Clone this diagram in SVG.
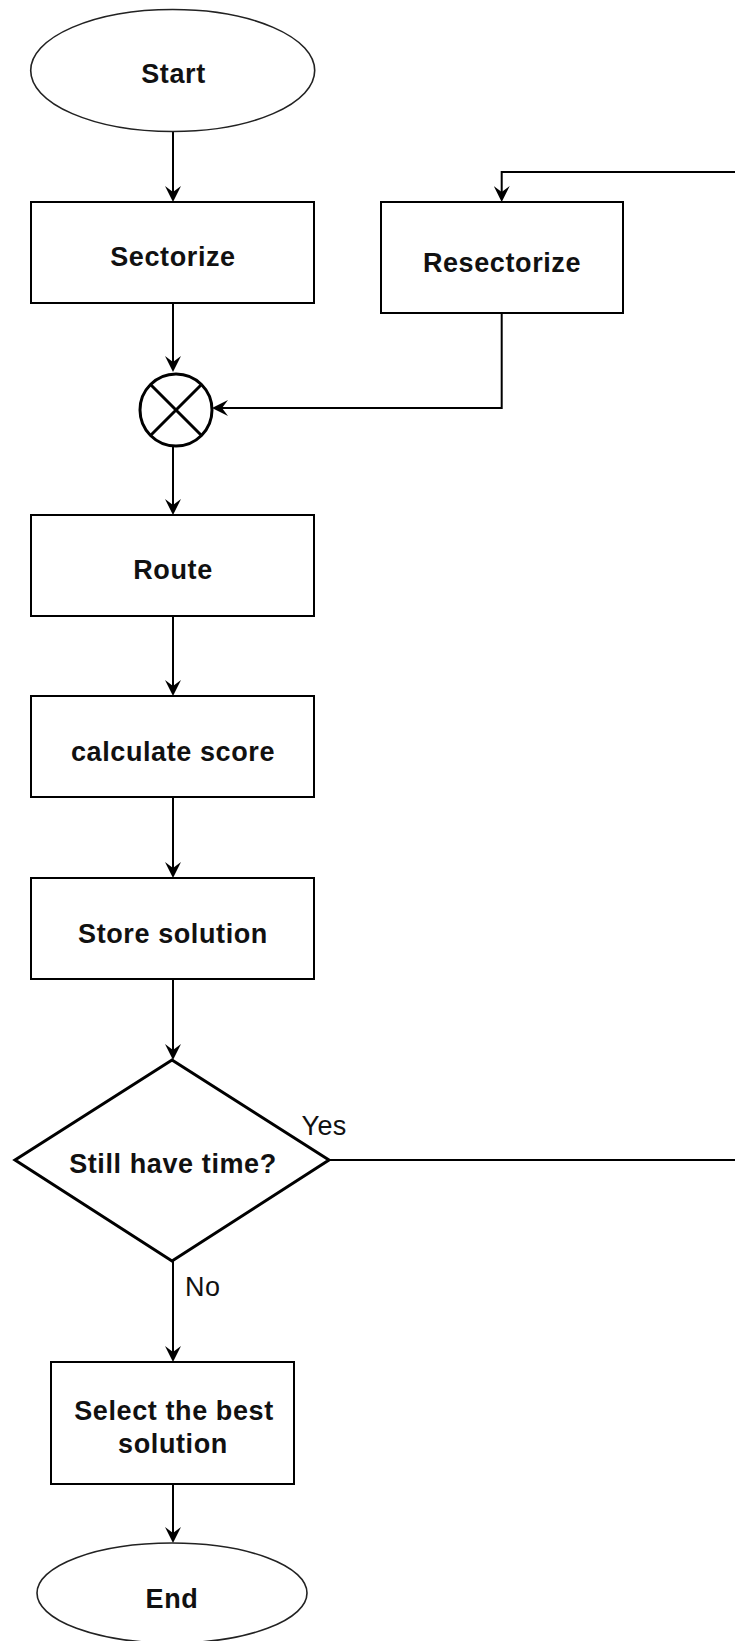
<svg xmlns="http://www.w3.org/2000/svg" width="735" height="1641" viewBox="0 0 735 1641">
<style>
  .box { fill: #ffffff; stroke: #000000; stroke-width: 2; }
  .term { fill: #ffffff; stroke: #222222; stroke-width: 1.6; }
  .heavy { fill: #ffffff; stroke: #000000; stroke-width: 3; }
  .conn { fill: none; stroke: #000000; stroke-width: 2; }
  .lbl { font-family: "Liberation Sans", Arial, sans-serif; font-size: 27px; font-weight: bold; fill: #111111; text-anchor: middle; letter-spacing: 0.6px; }
  .edge { font-family: "Liberation Sans", Arial, sans-serif; font-size: 27px; fill: #111111; letter-spacing: 0.4px; }
</style>
<defs>
  <marker id="arr" viewBox="0 0 16 16" refX="10" refY="8" markerWidth="16" markerHeight="16" markerUnits="userSpaceOnUse" orient="auto">
    <path d="M16,8 L0,0 L6,8 L0,16 Z" fill="#000000"/>
  </marker>
</defs>
<rect x="0" y="0" width="735" height="1641" fill="#ffffff"/>

<g id="connectors">
  <path class="conn" d="M173,132 V196" marker-end="url(#arr)"/>
  <path class="conn" d="M173,303 V366" marker-end="url(#arr)"/>
  <path class="conn" d="M501.7,313 V408 H218" marker-end="url(#arr)"/>
  <path class="conn" d="M173,446 V509" marker-end="url(#arr)"/>
  <path class="conn" d="M173,616 V690" marker-end="url(#arr)"/>
  <path class="conn" d="M173,797 V872" marker-end="url(#arr)"/>
  <path class="conn" d="M173,979 V1054" marker-end="url(#arr)"/>
  <path class="conn" d="M173,1261 V1356" marker-end="url(#arr)"/>
  <path class="conn" d="M173,1484 V1537" marker-end="url(#arr)"/>
  <path class="conn" d="M329,1160 H745 V172 H501.7 V196" marker-end="url(#arr)"/>
  <text class="edge" x="301.5" y="1135">Yes</text>
  <text class="edge" x="185" y="1296">No</text>
</g>

<g id="start">
  <ellipse class="term" cx="172.7" cy="70.5" rx="142" ry="61"/>
  <text class="lbl" x="173.5" y="83">Start</text>
</g>

<g id="sectorize">
  <rect class="box" x="31" y="202" width="283" height="101"/>
  <text class="lbl" x="173" y="266">Sectorize</text>
</g>

<g id="resectorize">
  <rect class="box" x="381" y="202" width="242" height="111"/>
  <text class="lbl" x="502" y="271.5">Resectorize</text>
</g>

<g id="junction">
  <circle class="heavy" cx="176" cy="410" r="36"/>
  <path class="conn" style="stroke-width:3" d="M150.5,384.5 L201.5,435.5 M201.5,384.5 L150.5,435.5"/>
</g>

<g id="route">
  <rect class="box" x="31" y="515" width="283" height="101"/>
  <text class="lbl" x="173" y="579">Route</text>
</g>

<g id="calculate">
  <rect class="box" x="31" y="696" width="283" height="101"/>
  <text class="lbl" x="173" y="761">calculate score</text>
</g>

<g id="store">
  <rect class="box" x="31" y="878" width="283" height="101"/>
  <text class="lbl" x="173" y="942.5">Store solution</text>
</g>

<g id="decision">
  <polygon class="heavy" points="172,1060 329,1160 172,1261 15,1160"/>
  <text class="lbl" x="173" y="1173">Still have time?</text>
</g>

<g id="select">
  <rect class="box" x="51" y="1362" width="243" height="122"/>
  <text class="lbl" x="174" y="1420">Select the best</text>
  <text class="lbl" x="173" y="1452.5">solution</text>
</g>

<g id="end">
  <ellipse class="term" cx="172" cy="1593" rx="135" ry="50"/>
  <text class="lbl" x="172" y="1607.5">End</text>
</g>
</svg>
